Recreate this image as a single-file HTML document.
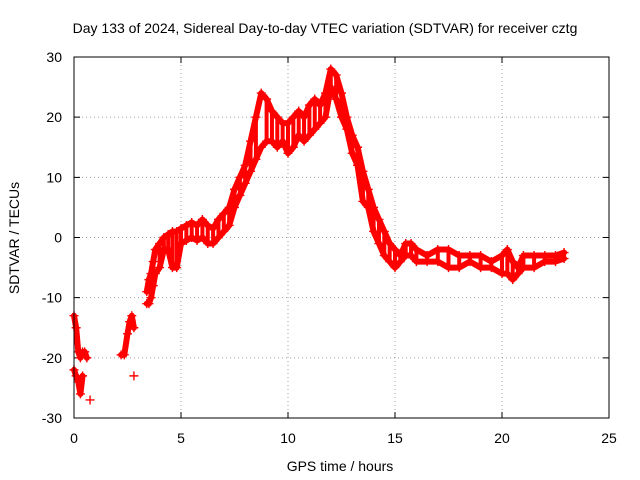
<!DOCTYPE html>
<html><head><meta charset="utf-8"><style>
html,body{margin:0;padding:0;background:#fff;}
svg{display:block;font-family:"Liberation Sans",sans-serif;}
</style></head><body>
<svg id="chart" width="640" height="480" viewBox="0 0 640 480">
<rect x="0" y="0" width="640" height="480" fill="#fff"/>
<text x="325" y="33" font-size="14" text-anchor="middle" fill="#000">Day 133 of 2024, Sidereal Day-to-day VTEC variation (SDTVAR) for receiver cztg</text>
<text x="340" y="471" font-size="14" text-anchor="middle" fill="#000">GPS time / hours</text>
<text transform="translate(19,238) rotate(-90)" font-size="14" text-anchor="middle" fill="#000">SDTVAR / TECUs</text>
<g id="grid"></g>
<g id="ticks"></g>
<g id="marks"></g>
<rect x="74" y="57" width="535" height="361" fill="none" stroke="#000" stroke-width="1"/>
</svg>
<script>
const xTicks = [0, 5, 10, 15, 20, 25];
const yTicks = [-30, -20, -10, 0, 10, 20, 30];
const times = [0,0.1,0.2,0.3,0.4,0.5,0.6,0.75,2.2,2.35,2.5,2.6,2.7,2.8,3.4,3.5,3.6,3.7,3.8,4.0,4.2,4.4,4.6,4.8,5.0,5.25,5.5,5.75,6.0,6.25,6.5,6.75,7.0,7.25,7.5,7.75,8.0,8.25,8.5,8.75,9.0,9.25,9.5,9.75,10.0,10.25,10.5,10.75,11.0,11.25,11.5,11.75,12.0,12.25,12.5,12.75,13.0,13.25,13.5,13.75,14.0,14.25,14.5,14.75,15.0,15.25,15.5,15.75,16,16.5,17,17.5,18,18.5,19,19.5,20,20.25,20.5,20.75,21,21.5,22,22.5,22.9];
const upper = [-13,-15,-19,-20,-19,-19,-20,-27,-19.5,-19.5,-16,-14,-13,-15,-9,-7,-6,-4,-2,-1,0,0.5,1,1,1.5,2,2.5,2,3,2,1.5,3,4,5,8,10,12,16,20,24,23,21,20,19,19,20,21,20,22,23,22,24,28,27,24,20,17,15,11,8,5,3,1,-1,-2,-3,-1,-1,-2,-3,-2,-2,-3,-3,-3,-4,-3,-2,-4,-5,-3,-3,-3,-3,-2.5];
const lower = [-22,-23,-24,-26,-23,null,null,null,null,null,null,null,null,-23,-11,-11,-10,-8,-6,-5,-2,-2,-5,-5,-1,-0.5,0,-0.5,0,-1,-1,0,1,2,5,7,9,11,13,15,16,16,15,16,14,15,17,16,17,18,19,20,25,23,20,18,14,12,6,5,1,-1,-3,-4,-5,-4,-3,-3,-4,-4,-4,-5,-5,-4,-5,-5,-6,-6,-7,-6,-5,-5,-4,-4,-3.5];

const NS = "http://www.w3.org/2000/svg";
const X0 = 74, X1 = 609, Y0 = 418, Y1 = 57;
const xs = t => X0 + (t - 0) / 25 * (X1 - X0);
const ys = v => Y0 - (v + 30) / 60 * (Y0 - Y1);
function mk(tag, attrs, parent) {
  const e = document.createElementNS(NS, tag);
  for (const k in attrs) e.setAttribute(k, attrs[k]);
  parent.appendChild(e);
  return e;
}
const grid = document.getElementById('grid');
const ticks = document.getElementById('ticks');
const marks = document.getElementById('marks');
xTicks.forEach(t => {
  const x = xs(t);
  if (t > 0 && t < 25) {
    const g = mk('line', {x1:x, x2:x, y1:Y1, y2:Y0, stroke:'#a0a0a0', 'stroke-dasharray':'1,3'}, grid);
    
    
  }
  const tk = mk('path', {d:`M${x},${Y0}v-6M${x},${Y1}v6`, stroke:'#000'}, ticks);
  
  
  const lb = mk('text', {x:x, y:443, 'font-size':14, 'text-anchor':'middle'}, ticks);
  lb.textContent = t;
  
  
});
yTicks.forEach(v => {
  const y = ys(v);
  if (v > -30 && v < 30) {
    const g = mk('line', {x1:X0, x2:X1, y1:y, y2:y, stroke:'#a0a0a0', 'stroke-dasharray':'1,3'}, grid);
    
    
  }
  const tk = mk('path', {d:`M${X0},${y}h6M${X1},${y}h-6`, stroke:'#000'}, ticks);
  
  
  const lb = mk('text', {x:62, y:y+5, 'font-size':14, 'text-anchor':'end'}, ticks);
  lb.textContent = v;
  
  
});
// dense band fill between the two series where they are close
times.forEach((t, i) => {
  const u = upper[i], l = lower[i];
  if (u === null || l === null || t < 4 || Math.abs(u - l) > 8) return;
  const x = xs(t);
  const b = mk('line', {x1:x, x2:x, y1:ys(u), y2:ys(l), stroke:'#f00', 'stroke-width':4}, marks);
  
  
});
function drawSeries(vals, name) {
  let d = '', prev = null;
  times.forEach((t, i) => {
    const v = vals[i];
    if (v === null) { prev = null; return; }
    const x = xs(t), y = ys(v);
    if (prev && t - prev.t <= 0.6 && Math.abs(v - prev.v) <= 6) d += `L${x},${y}`;
    else d += `M${x},${y}`;
    prev = {t, v};
    const p = mk('path', {d:`M${x-4.5},${y}h9M${x},${y-4.5}v9`, stroke:'#f00', 'stroke-width':1.4}, marks);
    
    
  });
  const path = mk('path', {d:d, fill:'none', stroke:'#f00', 'stroke-width':6, 'stroke-linejoin':'round', 'stroke-linecap':'round'}, marks);
  
  
}
drawSeries(upper, 'upper-series');
drawSeries(lower, 'lower-series');
</script>
</body></html>
